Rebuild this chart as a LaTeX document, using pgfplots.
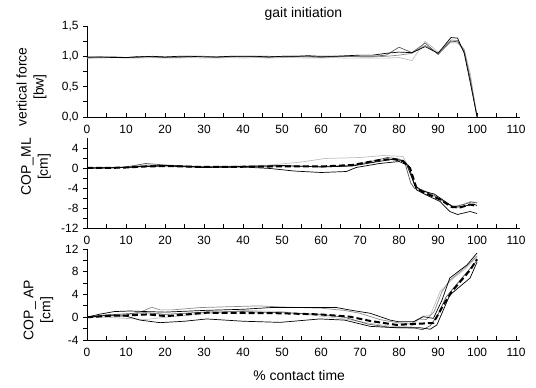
\documentclass[border=0pt]{standalone}
\usepackage{pgfplots}
\pgfplotsset{compat=1.18}
\usepackage{fontspec}
\setmainfont{Liberation Sans}
\definecolor{gA}{gray}{0.35}
\definecolor{gB}{gray}{0.55}
\definecolor{gC}{gray}{0.75}
\pgfplotsset{
 myax/.style={
  scale only axis, width=433bp, xmin=0, xmax=111,
  axis x line=bottom, axis y line=left,
  axis line style={-, line width=0.8bp},
  xtick={0,10,...,110}, minor x tick num=1, minor y tick num=1,
  tick align=inside,
  major tick length=4bp, minor tick length=4bp,
  tick style={black, line width=0.8bp},
  y tick style={xshift=-4bp},
  tick label style={font=\fontsize{12}{13}\selectfont},
  x tick label style={yshift=-5bp},
  y tick label style={xshift=-5bp},
  /pgf/number format/assume math mode=true,
  clip=false,
  every axis plot/.append style={line width=0.7bp, line join=round},
  ylabel style={align=center, font=\fontsize{14}{17}\selectfont, anchor=center},
 },
 meanl/.style={black, line width=2bp, dash pattern=on 6bp off 3bp},
}
\begin{document}
\begin{tikzpicture}
\useasboundingbox (0,0) rectangle (536bp,388bp);
% ---------- panel 1
\begin{axis}[myax, at={(87bp,271bp)}, anchor=south west, height=91bp,
  ymin=0, ymax=1.5, ytick={0,0.5,1,1.5}, yticklabels={{0,0},{0,5},{1,0},{1,5}},
  title={gait initiation},
  title style={at={(axis description cs:0.5,1)}, anchor=base, yshift=3bp, font=\fontsize{14}{16}\selectfont},
  ylabel={vertical force\\{}[bw]},
  ylabel style={at={(axis description cs:-0.128,0.33)}}]
\addplot[gC] coordinates {(0,0.97)(3.3,0.97)(6.7,0.98)(10,0.97)(13.3,0.97)(16.7,0.98)(20,0.97)(23.3,0.97)(26.7,0.98)(30,0.97)(33.3,0.97)(36.7,0.98)(40,0.97)(43.3,0.98)(46.7,0.97)(50,0.98)(53.3,0.98)(56.7,0.97)(60,0.97)(63.3,0.98)(66.7,0.97)(70,0.97)(73.3,0.97)(76.7,0.97)(80,0.98)(83.3,0.93)(86.7,1.25)(90,1.07)(93.3,1.23)(95,1.22)(96.7,1.12)(98.3,0.7)(100,0)};
\addplot[gB] coordinates {(0,0.97)(3.3,0.98)(6.7,0.99)(10,0.98)(13.3,0.98)(16.7,1.00)(20,0.99)(23.3,0.98)(26.7,0.99)(30,1.00)(33.3,0.98)(36.7,0.99)(40,1.00)(43.3,0.99)(46.7,0.98)(50,1.00)(53.3,1.00)(56.7,0.99)(60,0.98)(63.3,0.99)(66.7,1.00)(70,0.99)(73.3,0.99)(76.7,1.00)(80,1.02)(83.3,1.05)(86.7,1.18)(90,1.05)(93.3,1.27)(95,1.26)(96.7,1.10)(98.3,0.62)(100,0)};
\addplot[gA] coordinates {(0,0.98)(3.3,0.99)(6.7,0.99)(10,0.98)(13.3,1.00)(16.7,0.99)(20,0.98)(23.3,0.99)(26.7,1.00)(30,1.00)(33.3,0.99)(36.7,1.00)(40,0.99)(43.3,1.00)(46.7,1.00)(50,0.99)(53.3,1.00)(56.7,1.00)(60,0.99)(63.3,1.00)(66.7,1.00)(70,1.00)(73.3,1.00)(76.7,1.02)(80,1.15)(83.3,1.06)(86.7,1.22)(90,1.03)(93.3,1.25)(95,1.24)(96.7,1.08)(98.3,0.6)(100,0)};
\addplot[black] coordinates {(0,0.99)(3.3,0.99)(6.7,0.98)(10,0.98)(13.3,0.99)(16.7,1.00)(20,0.99)(23.3,1.00)(26.7,1.00)(30,0.99)(33.3,0.99)(36.7,1.00)(40,1.00)(43.3,1.00)(46.7,0.99)(50,1.00)(53.3,1.00)(56.7,1.01)(60,1.00)(63.3,1.00)(66.7,1.01)(70,1.02)(73.3,1.02)(76.7,1.05)(80,1.07)(83.3,1.06)(86.7,1.16)(90,1.05)(93.3,1.31)(95,1.30)(96.7,1.05)(98.3,0.55)(100,0)};
\end{axis}
% ---------- panel 2
\begin{axis}[myax, at={(87bp,160bp)}, anchor=south west, height=90bp,
  ymin=-12, ymax=6, ytick={-12,-8,-4,0,4}, yticklabels={-12,-8,-4,0,4},
  ylabel={COP\_ML\\{}[cm]},
  ylabel style={at={(axis description cs:-0.118,0.68)}}]
\addplot[gC] coordinates {(0,0)(5,0.1)(10,0.2)(15,0.6)(20,0.5)(30,0.3)(40,0.4)(47,0.6)(55,1.2)(61,1.9)(70,2.1)(76,2.5)(81,2.3)(82.5,0)(84,-3.4)(86.2,-5.1)(90.5,-6.1)(93.5,-7.5)(96,-7.4)(98.2,-6.7)(100,-6.9)};
\addplot[gA] coordinates {(0,0)(5,0)(10,0.2)(15,0.9)(20,0.6)(30,0.2)(40,0.3)(50,0.4)(60,0.3)(68,0.5)(74,1.5)(77,2.1)(80,1.8)(81.5,1.0)(83,-3.0)(84,-4.1)(86,-4.4)(89,-5.5)(92,-7.0)(94,-7.8)(97,-7.2)(98.5,-6.8)(100,-7.0)};
\addplot[black] coordinates {(0,0)(10,0.1)(15,0.4)(20,0.5)(30,0.2)(40,0.3)(50,0.5)(60,0.2)(68,0.4)(74,1.2)(78,1.7)(81,1.5)(82.5,0.4)(84,-3.5)(86,-4.6)(89,-5.2)(92,-6.8)(94,-7.9)(97,-7.6)(99,-7.2)(100,-7.5)};
\addplot[black] coordinates {(0,0)(5,0)(10,0.1)(15,0.3)(20,0.4)(30,0.1)(40,0.2)(47,-0.1)(53,-0.6)(60,-0.9)(66.5,-0.7)(69,0.1)(75,0.9)(80,1.3)(82,0.6)(84.5,-4.4)(87,-5.4)(90.5,-6.7)(93,-8.7)(95,-9.3)(98.2,-8.7)(100,-9.1)};
\addplot[meanl] coordinates {(0,0)(5,0)(10,0.1)(15,0.3)(20,0.4)(30,0.2)(40,0.25)(47,0.3)(60,0.3)(68,0.6)(75,1.6)(78.5,1.8)(81,1.4)(82.8,0)(84.5,-4.1)(87,-5.1)(90.5,-6.3)(93.5,-7.8)(95.6,-7.9)(98.2,-7.3)(100,-7.6)};
\end{axis}
% ---------- panel 3
\begin{axis}[myax, at={(87bp,48bp)}, anchor=south west, height=91bp,
  ymin=-4, ymax=12, ytick={-4,0,4,8,12}, yticklabels={-4,0,4,8,12},
  ylabel={COP\_ AP\\{}[cm]},
  ylabel style={at={(axis description cs:-0.112,0.33)}},
  xlabel={\% contact time},
  xlabel style={at={(axis description cs:0.49,0)}, anchor=base, yshift=-40bp, font=\fontsize{14}{16}\selectfont}]
\addplot[gC] coordinates {(0,0)(5,0)(10,-0.2)(15,-0.4)(20,0)(30,0.6)(40,1.2)(50,1.0)(60,0.2)(66,-0.3)(72,-1.0)(78,-1.6)(83,-1.7)(86,0.2)(88,0.3)(90.5,4.5)(94,6.9)(97,8.5)(100,10.6)};
\addplot[gB] coordinates {(0,0)(5,0.4)(10,0.4)(14,1.0)(16.6,1.76)(18.7,1.3)(22,1.3)(29,1.7)(44,2.0)(50,1.8)(60,1.6)(66,1.2)(70,0.7)(75,-0.4)(80,-1.0)(83,-1.2)(85,-0.3)(87,-0.4)(89,1.0)(91,4.5)(93,6.5)(97,8.8)(100,10.8)};
\addplot[gA] coordinates {(0,0)(5,0.4)(10,0.6)(15,0.8)(20,0.5)(30,0.9)(40,1.0)(50,0.8)(60,0.5)(66,0)(72,-1.2)(78,-1.8)(84,-1.9)(86,-2.2)(88,-1.5)(90,0.5)(92,3.5)(95,6.0)(100,10.0)};
\addplot[black] coordinates {(0,0)(3,0.5)(7,1.0)(11,1.1)(15,1.0)(20,0.9)(30,1.2)(40,1.4)(47,1.7)(55,1.7)(64,1.7)(68,1.2)(72.6,0.7)(77.7,-0.5)(80,-0.8)(83.7,-0.8)(86.2,0.1)(88.8,-0.2)(91,3.0)(93,6.9)(97.4,9.2)(100,11.3)};
\addplot[black] coordinates {(0,0)(5,0.3)(10,0.2)(13.6,-0.5)(18.7,-0.95)(25,-0.7)(30.7,-0.3)(40,-0.7)(49.5,-0.9)(59.7,-0.3)(66,-0.5)(72.6,-1.6)(79.4,-1.85)(85.4,-1.85)(88,-2.1)(89.7,-1.35)(93,3.9)(98.2,6.9)(100,9.7)};
\addplot[meanl] coordinates {(0,0)(6.7,0.3)(10,0.3)(15.5,0.5)(20.4,0.2)(30.7,0.8)(40,0.75)(49.5,0.7)(59.7,0.5)(67.4,0.1)(72.6,-0.65)(79.4,-1.35)(86.2,-1.1)(88.8,-1.0)(91.4,2.2)(93.5,4.5)(98.2,8.3)(100,10.2)};
\end{axis}
\end{tikzpicture}
\end{document}
